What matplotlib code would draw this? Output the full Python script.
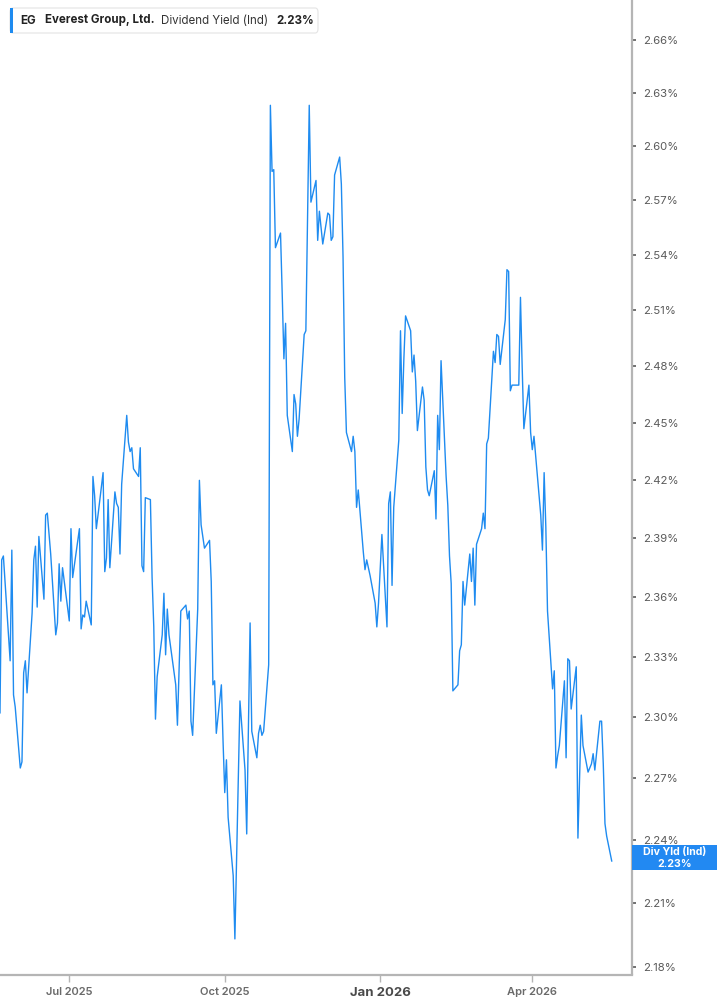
import numpy as np
import pandas as pd
import matplotlib
matplotlib.use("Agg")
import matplotlib.pyplot as plt
import matplotlib.dates as mdates
from matplotlib.patches import FancyBboxPatch, Rectangle
from matplotlib.ticker import FixedLocator, NullLocator, FuncFormatter

# dividend yield (%), one value per trading day
yld_may_aug = [2.302, 2.302, 2.379, 2.381, 2.328, 2.384, 2.311, 2.305, 2.275, 2.278,
               2.322, 2.328, 2.312, 2.352, 2.379, 2.386, 2.355, 2.391, 2.359, 2.402,
               2.403, 2.382, 2.341, 2.347, 2.377, 2.358, 2.375, 2.355, 2.348, 2.395,
               2.370, 2.395, 2.344, 2.351, 2.350, 2.358, 2.346, 2.422, 2.412, 2.395,
               2.402, 2.424, 2.373, 2.380, 2.410, 2.375, 2.414, 2.408, 2.406, 2.382,
               2.418, 2.454, 2.440, 2.435, 2.437, 2.426, 2.422, 2.437, 2.376, 2.373,
               2.411, 2.410, 2.370, 2.345, 2.299]
yld_aug_oct = [2.320, 2.341, 2.362, 2.331, 2.354, 2.341, 2.316, 2.296, 2.324, 2.353,
               2.356, 2.349, 2.353, 2.298, 2.291, 2.354, 2.420, 2.397, 2.391, 2.385,
               2.389, 2.368, 2.316, 2.318, 2.292, 2.316, 2.288, 2.263, 2.279, 2.251,
               2.223, 2.193, 2.230, 2.269, 2.308, 2.274, 2.243, 2.296, 2.347, 2.293,
               2.280, 2.292, 2.296, 2.291, 2.293, 2.326]
yld_oct_jan = [2.623, 2.586, 2.587, 2.544, 2.552, 2.519, 2.484, 2.503, 2.454, 2.435,
               2.465, 2.460, 2.443, 2.452, 2.497, 2.499, 2.561, 2.623, 2.569, 2.581,
               2.548, 2.564, 2.546, 2.563, 2.562, 2.548, 2.550, 2.584, 2.594, 2.579,
               2.539, 2.474, 2.445, 2.435, 2.443, 2.435, 2.406, 2.415, 2.383, 2.374,
               2.379, 2.371, 2.357, 2.345, 2.357, 2.392, 2.345, 2.408, 2.414, 2.366]
yld_jan_mar = [2.406, 2.441, 2.499, 2.455, 2.484, 2.507, 2.499, 2.477, 2.486, 2.472,
               2.446, 2.469, 2.462, 2.427, 2.415, 2.412, 2.425, 2.400, 2.454, 2.436,
               2.483, 2.422, 2.407, 2.381, 2.367, 2.313, 2.316, 2.333, 2.336, 2.368,
               2.356, 2.382, 2.368, 2.385, 2.356, 2.387, 2.395, 2.403, 2.395, 2.439,
               2.442, 2.488, 2.482, 2.497, 2.496, 2.481]
yld_mar_may = [2.505, 2.532, 2.531, 2.467, 2.470, 2.470, 2.470, 2.517, 2.480, 2.447,
               2.470, 2.445, 2.436, 2.443, 2.402, 2.384, 2.424, 2.396, 2.353, 2.314,
               2.323, 2.275, 2.281, 2.286, 2.318, 2.280, 2.329, 2.328, 2.304, 2.325,
               2.241, 2.271, 2.301, 2.286, 2.273, 2.275, 2.277, 2.282, 2.274, 2.298,
               2.298, 2.277, 2.248, 2.242, 2.230]

market_holidays = ["2025-05-26", "2025-06-19", "2025-07-04", "2025-09-01", "2025-11-27",
                   "2025-12-25", "2026-01-01", "2026-04-03"]

y_ticks = [2.18, 2.21, 2.24, 2.27, 2.30, 2.33, 2.36, 2.39, 2.42, 2.45, 2.48,
           2.51, 2.54, 2.57, 2.60, 2.63, 2.66]
x_tick_dates = ["2025-07-01", "2025-10-01", "2026-01-01", "2026-04-01"]
x_tick_labels = ["Jul 2025", "Oct 2025", "Jan 2026", "Apr 2026"]

ticker = "EG"
company = "Everest Group, Ltd."
metric = "Dividend Yield (Ind)"
last_val = "2.23%"

yld = np.array(yld_may_aug + yld_aug_oct + yld_oct_jan + yld_jan_mar + yld_mar_may)
dates = pd.bdate_range(start="2025-05-20", periods=len(yld), freq="C",
                       holidays=market_holidays)

W, H = 717, 1005
fig = plt.figure(figsize=(W / 100, H / 100), dpi=100)
fig.patch.set_facecolor("white")

# plot area in pixels: x 0..632, y 0..974.5
ax = fig.add_axes([0, 1 - 974.5 / H, 632 / W, 974.5 / H])
line_color = "#1e8bf0"
ax.plot(dates, yld, color=line_color, lw=1.0)

ax.set_yscale("log")
ax.set_ylim(2.1763, 2.683)
ax.set_xlim(pd.Timestamp("2025-05-21"), pd.Timestamp("2026-05-30"))

for s in ["top", "left"]:
    ax.spines[s].set_visible(False)
for s in ["right", "bottom"]:
    ax.spines[s].set_color("#b5b5b5")
    ax.spines[s].set_linewidth(1.6)

ax.yaxis.tick_right()
ax.yaxis.set_major_locator(FixedLocator(y_ticks))
ax.yaxis.set_minor_locator(NullLocator())
ax.yaxis.set_major_formatter(FuncFormatter(lambda v, p: f"{v:.2f}%"))
ax.tick_params(axis="y", which="major", length=3, width=1.3, color="#666666",
               labelsize=8.2, labelcolor="#5a5a5a", pad=5)
ax.tick_params(axis="y", which="minor", length=0)

ax.xaxis.set_major_locator(FixedLocator(mdates.date2num(pd.to_datetime(x_tick_dates))))
ax.xaxis.set_minor_locator(NullLocator())
ax.set_xticklabels(x_tick_labels)
ax.tick_params(axis="x", length=5, width=1.0, color="#b5b5b5",
               labelsize=8.0, labelcolor="#6a6a6a", pad=4)
for lab in ax.get_xticklabels():
    lab.set_fontfamily(["Inter", "DejaVu Sans"])
    lab.set_fontweight("semibold")
    if lab.get_text() == "Jan 2026":
        lab.set_fontweight("bold")
        lab.set_fontsize(9.5)
        lab.set_color("#4a4a4a")
for lab in ax.get_yticklabels():
    lab.set_fontfamily(["Inter", "DejaVu Sans"])


def px(x, y):
    return x / W, 1 - y / H


# legend box at top left
x0, y0 = px(10, 33)
box = FancyBboxPatch((x0, y0), 308 / W, 25 / H, boxstyle="round,pad=0,rounding_size=0.004",
                     transform=fig.transFigure, facecolor="white", edgecolor="#e4e4e4",
                     lw=0.8, zorder=5)
fig.patches.append(box)
bx, by = px(10, 33)
fig.patches.append(Rectangle((bx, by), 3 / W, 25 / H, transform=fig.transFigure,
                             facecolor=line_color, edgecolor="none", zorder=6))

ty = 1 - 20.5 / H
fam = ["Inter", "DejaVu Sans"]
fs = 8.3
fig.text(20 / W, ty, ticker, fontsize=fs, fontweight="bold", color="#222222",
         va="center", ha="left", family=fam, zorder=7)
fig.text(45 / W, ty, company, fontsize=fs, fontweight="bold", color="#222222",
         va="center", ha="left", family=fam, zorder=7)
fig.text(161 / W, ty, metric, fontsize=fs, color="#333333",
         va="center", ha="left", family=fam, zorder=7)
fig.text(276 / W, ty, last_val, fontsize=fs, fontweight="bold", color="#222222",
         va="center", ha="left", family=fam, zorder=7)

# current value flag on the right axis
fx, fy = px(632, 870)
fig.patches.append(Rectangle((fx, fy), 85 / W, 25 / H, transform=fig.transFigure,
                             facecolor="#2289f2", edgecolor="none", zorder=6))
fig.text(675 / W, 1 - 852 / H, "Div Yld (Ind)", fontsize=7.6, fontweight="bold",
         color="white", ha="center", va="center", family=fam, zorder=7)
fig.text(675 / W, 1 - 863.5 / H, last_val, fontsize=7.6, fontweight="bold",
         color="white", ha="center", va="center", family=fam, zorder=7)

fig.savefig("out.png", dpi=100)
